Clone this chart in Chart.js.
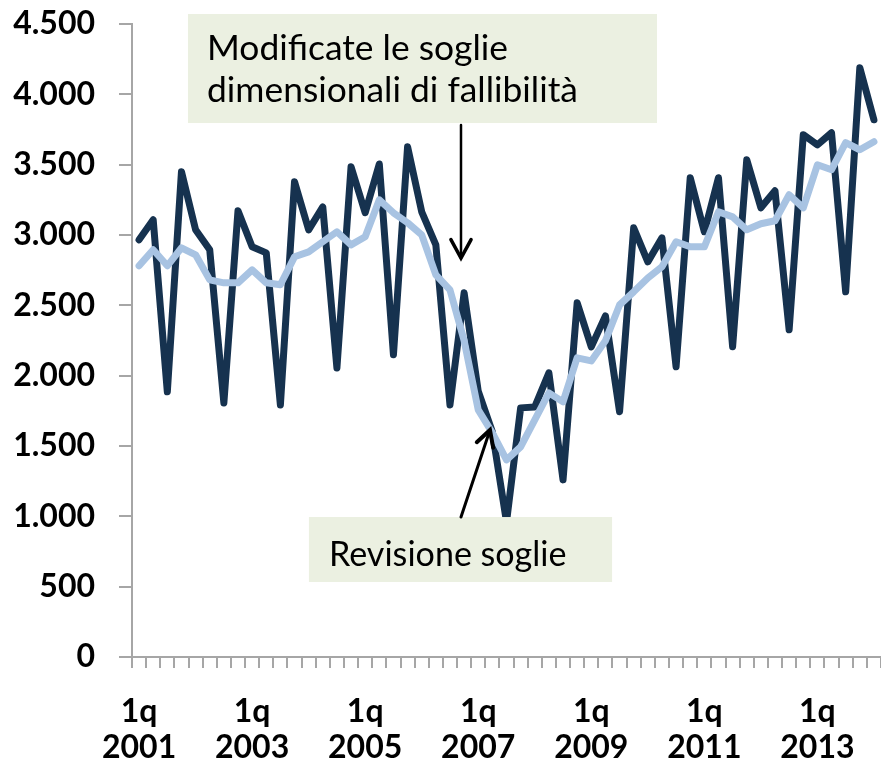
<!DOCTYPE html>
<html>
<head>
<meta charset="utf-8">
<script src="https://cdn.jsdelivr.net/npm/chart.js@4/dist/chart.umd.min.js"></script>
<style>
  html, body { margin: 0; padding: 0; background: #fff; }
  #wrap { width: 881px; height: 761px; }
</style>
</head>
<body>
<div id="wrap"><canvas id="myChart" width="881" height="761"></canvas></div>
<script>
// quarterly series, 1q 2001 - 1q 2014
const years = ["2001", "2002", "2003", "2004", "2005", "2006", "2007",
  "2008", "2009", "2010", "2011", "2012", "2013", "2014"];
const quarterNames = ["1q", "2q", "3q", "4q"];
const labelYears = ["2001", "2003", "2005", "2007", "2009", "2011", "2013"];

const failures = [
  2966, 3108, 1885, 3450,
  3037, 2895, 1806, 3172,
  2916, 2873, 1792, 3378,
  3037, 3200, 2055, 3485,
  3158, 3505, 2148, 3627,
  3165, 2930, 1792, 2589,
  1890, 1600, 960, 1771,
  1778, 2020, 1259, 2518,
  2205, 2425, 1743, 3051,
  2809, 2980, 2063, 3407,
  3023, 3407, 2205, 3535,
  3193, 3314, 2326, 3713,
  3641, 3727, 2596, 4189,
  3819
];
const trend = [
  2781, 2895, 2781, 2909,
  2859, 2681, 2660, 2660,
  2752, 2660, 2646, 2845,
  2880, 2952, 3023, 2930,
  2987, 3250, 3158, 3087,
  3001, 2717, 2610, 2250,
  1757, 1593, 1401, 1494,
  1686, 1878, 1814, 2127,
  2105, 2248, 2503, 2596,
  2695, 2774, 2952, 2916,
  2916, 3165, 3129, 3037,
  3080, 3101, 3286, 3193,
  3499, 3464, 3656, 3606,
  3663
];

const quarters = [];
years.forEach((y) => {
  quarterNames.forEach((q) => {
    if (quarters.length < failures.length) quarters.push(q + " " + y);
  });
});

const navy = "#16324f";
const lightBlue = "#a8c3e2";
const axisGrey = "#a6a6a6";
const boxFill = "#ebf0e1";
const tickFont = { family: "Lato", weight: "bold", size: 32, lineHeight: 1.125 };

function thousands(v) {
  return String(v).replace(/\B(?=(\d{3})+(?!\d))/g, ".");
}

// note boxes and arrows, placed in data units (category index, value)
const notes = [
  { box: [3.46, 4571, 36.65, 3796], lines: ["Modificate le soglie", "dimensionali di fallibilità"],
    textX: 4.81, textY: [4322, 4024], fitLine: 1, fitWidth: 371 },
  { box: [12.02, 995, 33.47, 533], lines: ["Revisione soglie"],
    textX: 13.44, textY: [725], fitLine: 0, fitWidth: 238 }
];
const arrows = [
  { from: [22.78, 3782], to: [22.78, 2836], width: 2.5, head: 21 },
  { from: [22.78, 995], to: [24.83, 1614], width: 3, head: 18 }
];

function drawArrow(ctx, x1, y1, x2, y2, w, head) {
  const a = Math.atan2(y2 - y1, x2 - x1);
  ctx.save();
  ctx.strokeStyle = "#000";
  ctx.lineWidth = w;
  ctx.lineCap = "round";
  ctx.beginPath();
  ctx.moveTo(x1, y1);
  ctx.lineTo(x2, y2);
  ctx.stroke();
  ctx.lineWidth = w + 1;
  ctx.beginPath();
  ctx.moveTo(x2 - head * Math.cos(a - 0.5), y2 - head * Math.sin(a - 0.5));
  ctx.lineTo(x2, y2);
  ctx.lineTo(x2 - head * Math.cos(a + 0.5), y2 - head * Math.sin(a + 0.5));
  ctx.stroke();
  ctx.restore();
}

const notesPlugin = {
  id: "notes",
  afterDraw(chart) {
    const ctx = chart.ctx;
    const xs = chart.scales.x;
    const ys = chart.scales.y;
    const px = (i) => xs.getPixelForValue(i);
    const py = (v) => ys.getPixelForValue(v);

    notes.forEach((n) => {
      const x1 = px(n.box[0]), y1 = py(n.box[1]);
      const x2 = px(n.box[2]), y2 = py(n.box[3]);
      ctx.save();
      ctx.fillStyle = boxFill;
      ctx.fillRect(x1, y1, x2 - x1, y2 - y1);
      ctx.font = "100px Lato";
      const size = 100 * n.fitWidth / ctx.measureText(n.lines[n.fitLine]).width;
      ctx.font = size.toFixed(1) + "px Lato";
      ctx.fillStyle = "#000";
      ctx.textAlign = "left";
      ctx.textBaseline = "middle";
      n.lines.forEach((line, k) => {
        ctx.fillText(line, px(n.textX), py(n.textY[k]));
      });
      ctx.restore();
    });

    arrows.forEach((a) => {
      drawArrow(ctx, px(a.from[0]), py(a.from[1]), px(a.to[0]), py(a.to[1]), a.width, a.head);
    });
  }
};

const ctx = document.getElementById("myChart").getContext("2d");

const myChart = new Chart(ctx, {
  type: "line",
  data: {
    labels: quarters,
    datasets: [
      {
        label: "Media mobile",
        data: trend,
        borderColor: lightBlue,
        borderWidth: 7,
        pointRadius: 0,
        tension: 0,
        borderJoinStyle: "round",
        borderCapStyle: "round",
      },
      {
        label: "Fallimenti",
        data: failures,
        borderColor: navy,
        borderWidth: 7,
        pointRadius: 0,
        tension: 0,
        borderJoinStyle: "round",
        borderCapStyle: "round",
      },
    ],
  },
  options: {
    responsive: false,
    animation: false,
    devicePixelRatio: 1,
    layout: { padding: { top: 24, left: 0, right: 0, bottom: 0 } },
    plugins: {
      legend: { display: false },
      tooltip: { enabled: false },
    },
    scales: {
      x: {
        offset: true,
        grid: {
          offset: true,
          drawOnChartArea: false,
          drawTicks: true,
          tickLength: 11,
          color: axisGrey,
          lineWidth: 2,
        },
        border: { color: axisGrey, width: 2 },
        ticks: {
          autoSkip: false,
          maxRotation: 0,
          minRotation: 0,
          padding: 26,
          color: "#000",
          font: tickFont,
          callback: function (value, index) {
            const parts = quarters[index].split(" ");
            if (parts[0] === "1q" && labelYears.includes(parts[1])) return parts;
            return "";
          },
        },
        afterFit: (scale) => {
          scale.height = 104;
          scale.paddingLeft = 0;
          scale.paddingRight = 0;
        },
      },
      y: {
        min: 0,
        max: 4500,
        grid: {
          drawOnChartArea: false,
          drawTicks: true,
          tickLength: 13,
          color: axisGrey,
          lineWidth: 2,
        },
        border: { color: axisGrey, width: 2 },
        ticks: {
          stepSize: 500,
          padding: 24,
          color: "#000",
          font: tickFont,
          callback: (v) => thousands(v),
        },
        afterFit: (scale) => {
          scale.width = 132;
          scale.paddingTop = 0;
          scale.paddingBottom = 0;
        },
      },
    },
  },
  plugins: [notesPlugin],
});
</script>
</body>
</html>
